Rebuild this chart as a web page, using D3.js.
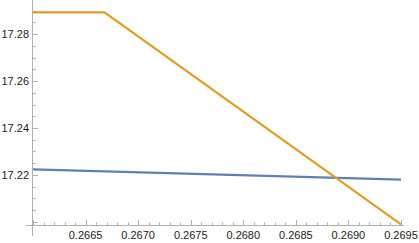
<!DOCTYPE html>
<html>
<head>
<meta charset="utf-8">
<script src="https://cdn.jsdelivr.net/npm/d3@7"></script>
<style>
  body { margin: 0; background: #fff; }
  text { font-family: "Liberation Sans", Arial, sans-serif; font-size: 11px; fill: #222; }
</style>
</head>
<body>
<div id="chart"></div>
<script>
// series
var blueX = [0.2660, 0.2695];
var blueY = [17.2224, 17.2180];
var orangeX = [0.2660, 0.26668, 0.2695];
var orangeY = [17.2892, 17.2892, 17.1990];

var xTicks = [0.2665, 0.2670, 0.2675, 0.2680, 0.2685, 0.2690, 0.2695];
var xTickLabels = ["0.2665", "0.2670", "0.2675", "0.2680", "0.2685", "0.2690", "0.2695"];
var yTicks = [17.22, 17.24, 17.26, 17.28];
var yTickLabels = ["17.22", "17.24", "17.26", "17.28"];

var width = 419, height = 243;

var x = d3.scaleLinear().domain([0.2660, 0.2695]).range([33, 401]);
var y = d3.scaleLinear().domain([17.1987, 17.2945]).range([225, 0]);

var svg = d3.select("#chart").append("svg")
    .attr("width", width)
    .attr("height", height);

var axisColor = "#b0b0b0";

// axis lines
svg.append("line")
    .attr("x1", 26).attr("x2", 404)
    .attr("y1", 225.5).attr("y2", 225.5)
    .attr("stroke", axisColor).attr("stroke-width", 1);
svg.append("line")
    .attr("x1", 32.5).attr("x2", 32.5)
    .attr("y1", 0).attr("y2", 236)
    .attr("stroke", axisColor).attr("stroke-width", 1);

// x ticks (inside, pointing up)
var xMinor = d3.range(0, 36).map(function(i) { return 0.2660 + i * 0.0001; });
svg.append("g").selectAll("line")
  .data(xMinor)
  .enter().append("line")
    .attr("x1", function(d) { return Math.round(x(d)) + 0.5; })
    .attr("x2", function(d) { return Math.round(x(d)) + 0.5; })
    .attr("y1", 225)
    .attr("y2", function(d, i) { return i % 5 === 0 ? 220 : 222.5; })
    .attr("stroke", axisColor);

svg.append("g").selectAll("text")
  .data(xTicks)
  .enter().append("text")
    .attr("x", function(d) { return x(d); })
    .attr("y", 239)
    .attr("text-anchor", "middle")
    .text(function(d, i) { return xTickLabels[i]; });

// y ticks (inside, pointing right)
var yMinor = d3.range(0, 20).map(function(i) { return 17.20 + i * 0.005; });
svg.append("g").selectAll("line")
  .data(yMinor)
  .enter().append("line")
    .attr("x1", 33)
    .attr("x2", function(d, i) { return i % 4 === 0 ? 38 : 35.5; })
    .attr("y1", function(d) { return Math.round(y(d)) + 0.5; })
    .attr("y2", function(d) { return Math.round(y(d)) + 0.5; })
    .attr("stroke", axisColor);

svg.append("g").selectAll("text")
  .data(yTicks)
  .enter().append("text")
    .attr("x", 29)
    .attr("y", function(d) { return y(d) + 4; })
    .attr("text-anchor", "end")
    .text(function(d, i) { return yTickLabels[i]; });

var line = d3.line()
    .x(function(d) { return x(d[0]); })
    .y(function(d) { return y(d[1]); });

svg.append("path")
    .datum(blueX.map(function(v, i) { return [v, blueY[i]]; }))
    .attr("d", line)
    .attr("fill", "none")
    .attr("stroke", "#5e81b5")
    .attr("stroke-width", 2.2);

svg.append("path")
    .datum(orangeX.map(function(v, i) { return [v, orangeY[i]]; }))
    .attr("d", line)
    .attr("fill", "none")
    .attr("stroke", "#e19c24")
    .attr("stroke-width", 2.2);
</script>
</body>
</html>
